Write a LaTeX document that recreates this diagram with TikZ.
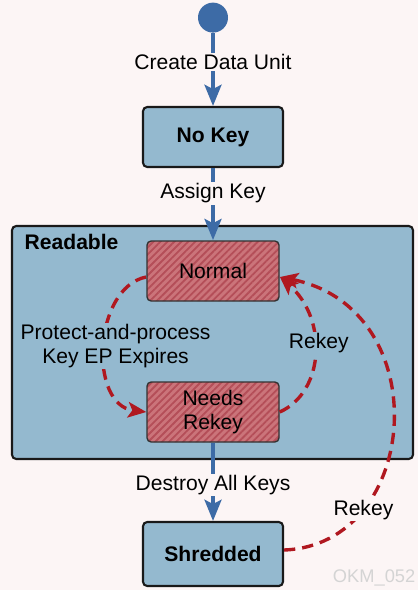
\documentclass[tikz,border=0pt]{standalone}
\usepackage{fontspec}
\setmainfont{Liberation Sans}
\usetikzlibrary{positioning, arrows.meta, patterns.meta}
\definecolor{bgpink}{RGB}{252,245,245}
\definecolor{boxblue}{RGB}{148,185,207}
\definecolor{flowblue}{RGB}{61,107,166}
\definecolor{keyred}{RGB}{176,24,32}
\definecolor{hatchbase}{RGB}{203,116,122}
\definecolor{hatchline}{RGB}{180,78,88}
\newcommand{\diagfont}{\fontsize{15}{17}\selectfont}

\begin{document}
\begin{tikzpicture}[
    node distance=3cm,
    on grid,
    font=\diagfont,
    bluebox/.style={draw=black!90, line width=1.5pt, rounded corners=3pt, fill=boxblue, minimum width=3.5cm, minimum height=1.5cm, font=\diagfont\bfseries},
    hatchbox/.style={draw=black!80, line width=1pt, rounded corners=3pt, minimum width=3.3cm, minimum height=1.5cm, align=center, preaction={fill=hatchbase}, pattern={Lines[angle=45, distance=3.5pt, line width=1.3pt]}, pattern color=hatchline},
    flow/.style={line width=2.8pt, draw=flowblue, -{Stealth[length=15pt, width=12pt, inset=3pt]}},
    rekey/.style={line width=2.4pt, draw=keyred, dash pattern=on 8pt off 5pt, -{Stealth[length=13pt, width=11pt, inset=3pt]}},
    outlabel/.style={fill=bgpink, inner sep=1pt},
    inlabel/.style={fill=boxblue, inner sep=1pt, align=center}
]

   % Page
   \fill[bgpink] (0,0) rectangle (10.45,-14.75);
   \useasboundingbox (0,0) rectangle (10.45,-14.75);

   % Readable container
   \node[draw=black!90, line width=1.5pt, rounded corners=3pt, fill=boxblue, minimum width=10.025cm, minimum height=5.825cm] (readable) at (5.3125,-8.5625) {};
   \node[anchor=north west, font=\diagfont\bfseries] (readtitle) at ([xshift=0.22cm, yshift=-0.1cm]readable.north west) {Readable};

   % States
   \node[circle, fill=flowblue, minimum size=0.75cm, inner sep=0pt] (start) at (5.325,-0.44) {};
   \node[bluebox] (nokey) [below=2.985cm of start] {No Key};
   \node[hatchbox] (normal) [below=3.35cm of nokey] {Normal};
   \node[hatchbox] (needs) [below=3.525cm of normal] {Needs\\Rekey};
   \node[bluebox, minimum height=1.6cm] (shredded) [below=3.55cm of needs] {Shredded};

   \node[anchor=west, text=black!17, font=\fontsize{13}{15}\selectfont] (okm) at (8.2,-14.45) {OKM\_052};

   % Transitions
   \draw[flow] (start) -- node[outlabel, pos=0.4] {Create Data Unit} (nokey);
   \draw[flow] (nokey) -- node[outlabel, pos=0.35] {Assign Key} (normal);
   \draw[flow] (needs) -- node[outlabel, pos=0.54] {Destroy All Keys} (shredded);

   \draw[rekey] ([yshift=-0.15cm]normal.west) .. controls +(-1.325,-0.275) and +(-1.45,0.175) .. (needs.west)
      node[inlabel, pos=0.5, xshift=0.275cm] {Protect-and-process\\Key EP Expires};
   \draw[rekey] (needs.east) .. controls +(1.125,0.5) and +(1.2,-1.05) .. ([yshift=-0.15cm]normal.east)
      node[inlabel, pos=0.5, xshift=0.1cm, yshift=0.25cm] {Rekey};
   \draw[rekey] ([yshift=0.1cm]shredded.east) .. controls +(3.425,0.125) and +(3.95,-0.8) .. ([yshift=-0.15cm]normal.east)
      node[outlabel, pos=0.25] {Rekey};
\end{tikzpicture}
\end{document}
